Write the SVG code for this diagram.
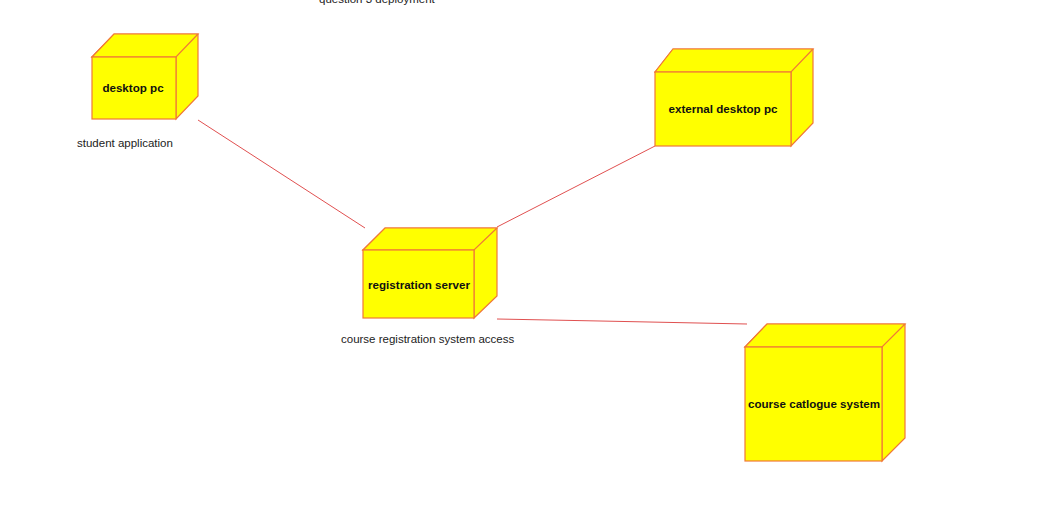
<svg xmlns="http://www.w3.org/2000/svg" width="1051" height="507" viewBox="0 0 1051 507">
<style>
.box{fill:#ffff00;stroke:#f07838;stroke-width:1.2;stroke-linejoin:miter}
.nm{font-family:"Liberation Sans",Arial,sans-serif;font-size:11.6px;font-weight:bold;fill:#111;text-anchor:middle}
.lb{font-family:"Liberation Sans",Arial,sans-serif;font-size:11.5px;fill:#222}
.conn{stroke:#e05050;stroke-width:1;fill:none}
</style>
<rect width="1051" height="507" fill="#ffffff"/>
<text class="lb" x="319" y="3">question 3 deployment</text>
<g id="connectors">
<line class="conn" x1="198" y1="120" x2="365" y2="228"/>
<line class="conn" x1="655" y1="146" x2="497" y2="227"/>
<path class="conn" d="M497 319 L600 321 L747 324"/>
</g>
<g id="desktop-pc">
<path class="box" d="M92 57 L114 34 L198 34 L198 96 L176 119 L176 57 Z"/>
<path class="box" d="M92 57 L114 34 L198 34 L176 57 Z"/>
<rect class="box" x="92" y="57" width="84" height="62"/>
<text class="nm" x="133" y="92">desktop pc</text>
<text class="lb" x="77" y="147">student application</text>
</g>
<g id="external-desktop-pc">
<path class="box" d="M655 72 L673 49 L813 49 L813 123 L791 146 L791 72 Z"/>
<path class="box" d="M655 72 L673 49 L813 49 L791 72 Z"/>
<rect class="box" x="655" y="72" width="136" height="74"/>
<text class="nm" x="723" y="113">external desktop pc</text>
</g>
<g id="registration-server">
<path class="box" d="M363 250 L385 228 L497 228 L497 296 L474 318 L474 250 Z"/>
<path class="box" d="M363 250 L385 228 L497 228 L474 250 Z"/>
<rect class="box" x="363" y="250" width="111" height="68"/>
<text class="nm" x="419" y="289">registration server</text>
<text class="lb" x="341" y="343">course registration system access</text>
</g>
<g id="course-catalogue-system">
<path class="box" d="M745 347 L767 324 L905 324 L905 438 L882 461 L882 347 Z"/>
<path class="box" d="M745 347 L767 324 L905 324 L882 347 Z"/>
<rect class="box" x="745" y="347" width="137" height="114"/>
<text class="nm" x="814" y="408">course catlogue system</text>
</g>
</svg>
